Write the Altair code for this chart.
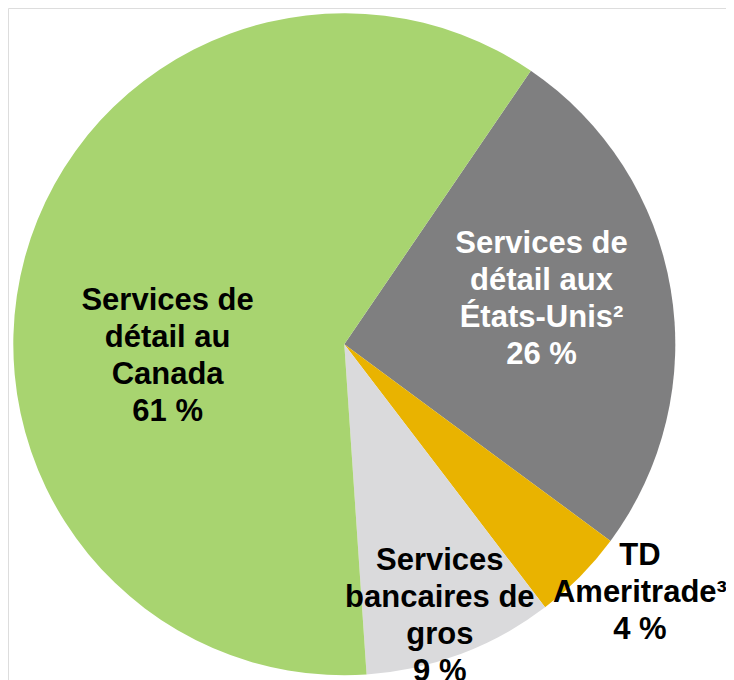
import altair as alt
import pandas as pd
import math

segments = ["Services de détail aux États-Unis", "TD Ameritrade", "Services bancaires de gros", "Services de détail au Canada"]
shares = [25.6, 4.5, 9.3, 60.6]
labels = [
    ["Services de", "détail aux", "États-Unis²", "26 %"],
    ["TD", "Ameritrade³", "4 %"],
    ["Services", "bancaires de", "gros", "9 %"],
    ["Services de", "détail au", "Canada", "61 %"],
]
colors = ["#7F7F80", "#E9B300", "#DADADC", "#A8D470"]
text_colors = ["white", "black", "black", "black"]

df = pd.DataFrame({
    "segment": segments,
    "share": shares,
    "order": list(range(len(segments))),
    "label": ["\n".join(l) for l in labels],
})

start = math.radians(34.3)
total = sum(shares)
theta_scale = alt.Scale(domain=[0, total], range=[start, start + 2 * math.pi])

CX, CY, R = 336.3, 336.2, 331

base = alt.Chart(df).transform_window(
    s1="sum(share)", sort=[alt.SortField("order")], frame=[None, 0]
).transform_calculate(
    s0="datum.s1 - datum.share", mid="datum.s1 - datum.share / 2"
)

arcs = base.mark_arc(outerRadius=R, stroke=None).encode(
    theta=alt.Theta("s0:Q", scale=theta_scale),
    theta2="s1:Q",
    color=alt.Color("segment:N", scale=alt.Scale(domain=segments, range=colors), legend=None),
    x=alt.value(CX), y=alt.value(CY),
)

# per-label radius and fine offsets (first line sits at the anchor)
placements = {
    segments[0]: (200, 0, -67),
    segments[1]: (370, 32, -48),
    segments[2]: (280, -3, -45),
    segments[3]: (180, -3, 4),
}

layers = [arcs]
for seg, tc in zip(segments, text_colors):
    r, ddx, ddy = placements[seg]
    layers.append(
        base.transform_filter(alt.datum.segment == seg).mark_text(
            font="Liberation Sans", fontWeight="bold", fontSize=31,
            lineBreak="\n", lineHeight=37, align="center", baseline="middle",
            radius=r, dx=ddx, dy=ddy, color=tc,
        ).encode(
            theta=alt.Theta("mid:Q", scale=theta_scale),
            text="label:N", x=alt.value(CX), y=alt.value(CY),
        )
    )

chart = alt.layer(*layers).properties(
    width=718, height=672, autosize=alt.AutoSizeParams(type="none"), padding=0,
).configure_view(stroke=None).configure(background="white")

chart.save("out.html", embed_options={"renderer": "svg", "actions": False})
